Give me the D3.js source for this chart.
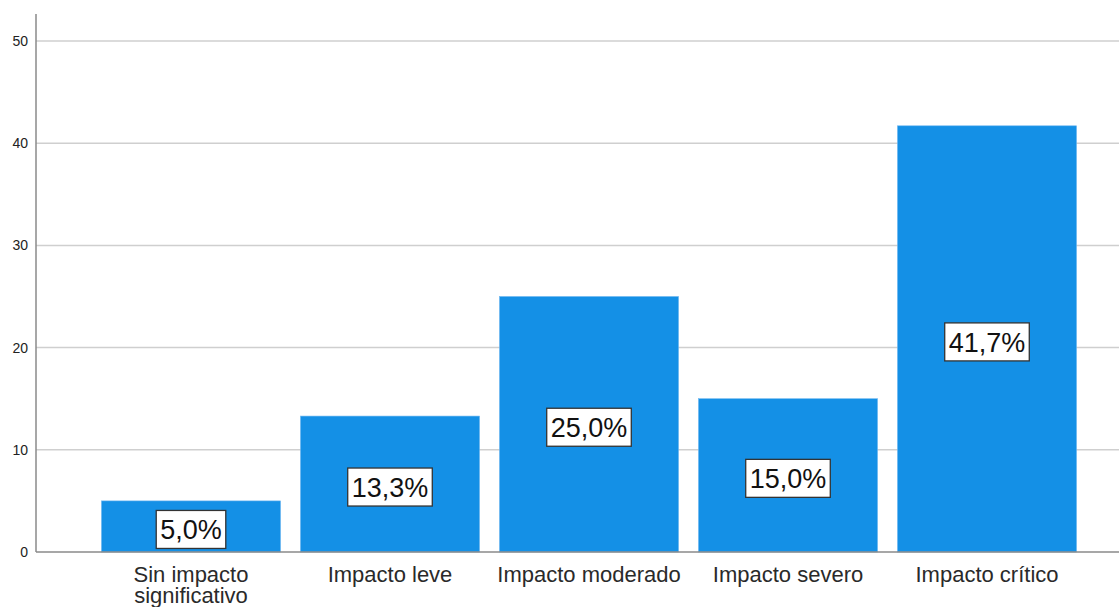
<!DOCTYPE html>
<html>
<head>
<meta charset="utf-8">
<script src="https://cdn.jsdelivr.net/npm/d3@7"></script>
<style>
  html, body { margin: 0; padding: 0; background: #fff; }
  svg { display: block; font-family: "Liberation Sans", Arial, sans-serif; }
</style>
</head>
<body>
<svg id="chart" width="1119" height="607"></svg>
<script>
// Impact categories and the share of responses in each (percent)
const categories = [
  ["Sin impacto", "significativo"],
  ["Impacto leve"],
  ["Impacto moderado"],
  ["Impacto severo"],
  ["Impacto crítico"]
];
const percents = [5.0, 13.3, 25.0, 15.0, 41.7];
const yTicks = [0, 10, 20, 30, 40, 50];

const svg = d3.select("#chart");
const fmt = v => v.toFixed(1).replace(".", ",") + "%";

const x = d3.scaleBand()
  .domain(d3.range(categories.length))
  .range([91.5, 1086.5])
  .paddingInner(0.1)
  .paddingOuter(0.05);

const y = d3.scaleLinear()
  .domain([0, 52.64])
  .range([552, 14]);

const axisX = 36;

// horizontal grid lines
svg.append("g")
  .selectAll("line")
  .data(yTicks.filter(t => t > 0))
  .join("line")
  .attr("x1", axisX).attr("x2", 1119)
  .attr("y1", d => y(d)).attr("y2", d => y(d))
  .attr("stroke", "#cfcfcf")
  .attr("stroke-width", 1.5);

// y axis: tick labels only, plus a plain vertical line
const yAxis = d3.axisLeft(y).tickValues(yTicks).tickSize(0).tickPadding(8);
const gy = svg.append("g").attr("transform", `translate(${axisX},0)`).call(yAxis);
gy.select(".domain").remove();
gy.selectAll("text")
  .attr("font-size", 14)
  .attr("fill", "#222")
  .attr("font-family", "Liberation Sans, Arial, sans-serif");

svg.append("line")
  .attr("x1", axisX).attr("x2", axisX)
  .attr("y1", y.range()[1]).attr("y2", y(0))
  .attr("stroke", "#8a8a8a").attr("stroke-width", 1.5);

// bars
svg.append("g")
  .selectAll("rect")
  .data(percents)
  .join("rect")
  .attr("x", (d, i) => x(i))
  .attr("width", x.bandwidth())
  .attr("y", d => y(d))
  .attr("height", d => y(0) - y(d))
  .attr("fill", "#1490e6")
  .attr("stroke", "#6fb8f0")
  .attr("stroke-width", 0.6);

// x baseline
svg.append("line")
  .attr("x1", axisX).attr("x2", 1119)
  .attr("y1", y(0)).attr("y2", y(0))
  .attr("stroke", "#8a8a8a").attr("stroke-width", 1.5);

// value labels in boxes at the middle of each bar
const labels = svg.append("g")
  .selectAll("g")
  .data(percents)
  .join("g")
  .attr("transform", (d, i) => `translate(${x(i) + x.bandwidth() / 2},${(y(d) + y(0)) / 2 + 3})`);

labels.append("rect")
  .attr("fill", "#fff")
  .attr("stroke", "#333")
  .attr("stroke-width", 1.3);

labels.append("text")
  .attr("text-anchor", "middle")
  .attr("dy", "0.36em")
  .attr("font-size", 27)
  .attr("fill", "#111")
  .text(d => fmt(d));

labels.each(function () {
  const g = d3.select(this);
  const w = g.select("text").node().getComputedTextLength();
  g.select("rect")
    .attr("x", -w / 2 - 4)
    .attr("width", w + 8)
    .attr("y", -19)
    .attr("height", 38);
});

// category labels, wrapped onto lines
const cat = svg.append("g")
  .selectAll("text")
  .data(categories)
  .join("text")
  .attr("x", (d, i) => x(i) + x.bandwidth() / 2)
  .attr("y", 582)
  .attr("text-anchor", "middle")
  .attr("font-size", 22)
  .attr("fill", "#2a2a2a");

cat.selectAll("tspan")
  .data(d => d)
  .join("tspan")
  .attr("x", function () { return d3.select(this.parentNode).attr("x"); })
  .attr("dy", (d, i) => i === 0 ? 0 : 21)
  .text(d => d);
</script>
</body>
</html>
